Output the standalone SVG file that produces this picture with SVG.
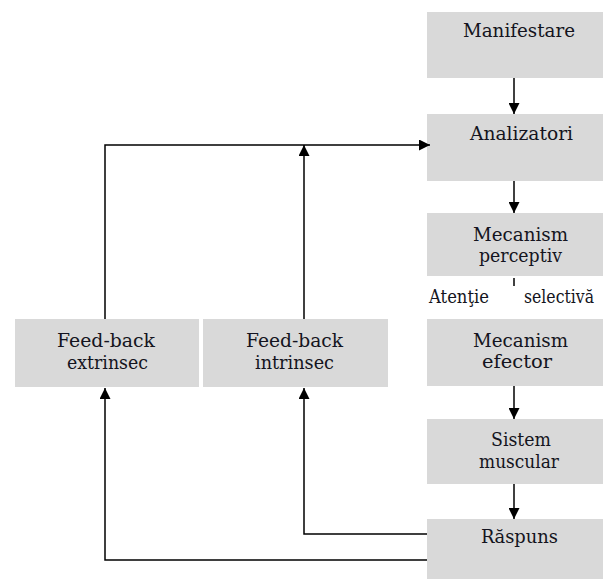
<svg xmlns="http://www.w3.org/2000/svg" width="603" height="582" viewBox="0 0 603 582">
<style>
.box{fill:#d9d9d9;stroke:none}
.t{font-family:'DejaVu Serif','Liberation Serif',serif;font-size:18px;fill:#141420}
.ln{fill:none;stroke:#000;stroke-width:1.5}
</style>
<defs>
<marker id="ah" markerUnits="userSpaceOnUse" markerWidth="11" markerHeight="11" refX="10" refY="5" orient="auto" viewBox="0 0 10 10">
<path d="M0,0 L10,5 L0,10 z" fill="#000"/>
</marker>
</defs>
<rect width="603" height="582" fill="#fff"/>
<g id="manifestare"><rect class="box" x="427" y="12" width="176" height="66"/><text class="t" x="463" y="37" textLength="112" lengthAdjust="spacingAndGlyphs">Manifestare</text></g>
<g id="analizatori"><rect class="box" x="427" y="114" width="176" height="67"/><text class="t" x="470" y="140" textLength="103" lengthAdjust="spacingAndGlyphs">Analizatori</text></g>
<g id="mecanism-perceptiv"><rect class="box" x="427" y="213" width="176" height="63"/><text class="t" x="473" y="241" textLength="95" lengthAdjust="spacingAndGlyphs">Mecanism</text><text class="t" x="479" y="262" textLength="83" lengthAdjust="spacingAndGlyphs">perceptiv</text></g>
<g id="atentie"><text class="t" x="429" y="303" textLength="60" lengthAdjust="spacingAndGlyphs">Atenţie</text><text class="t" x="524" y="303" textLength="70" lengthAdjust="spacingAndGlyphs">selectivă</text></g>
<g id="mecanism-efector"><rect class="box" x="427" y="319" width="176" height="67"/><text class="t" x="473" y="347" textLength="95" lengthAdjust="spacingAndGlyphs">Mecanism</text><text class="t" x="482" y="368" textLength="70" lengthAdjust="spacingAndGlyphs">efector</text></g>
<g id="sistem-muscular"><rect class="box" x="427" y="419" width="176" height="65"/><text class="t" x="491" y="446" textLength="60" lengthAdjust="spacingAndGlyphs">Sistem</text><text class="t" x="479" y="468" textLength="80" lengthAdjust="spacingAndGlyphs">muscular</text></g>
<g id="raspuns"><rect class="box" x="427" y="519" width="176" height="60"/><text class="t" x="481" y="543" textLength="77" lengthAdjust="spacingAndGlyphs">Răspuns</text></g>
<g id="feedback-extrinsec"><rect class="box" x="15" y="319" width="184" height="68"/><text class="t" x="57" y="347" textLength="98" lengthAdjust="spacingAndGlyphs">Feed-back</text><text class="t" x="67" y="369" textLength="81" lengthAdjust="spacingAndGlyphs">extrinsec</text></g>
<g id="feedback-intrinsec"><rect class="box" x="203" y="319" width="185" height="68"/><text class="t" x="246" y="347" textLength="97" lengthAdjust="spacingAndGlyphs">Feed-back</text><text class="t" x="255" y="369" textLength="79" lengthAdjust="spacingAndGlyphs">intrinsec</text></g>
<g id="connectors">
<line class="ln" x1="514" y1="78" x2="514" y2="114" marker-end="url(#ah)"/>
<line class="ln" x1="514" y1="181" x2="514" y2="213" marker-end="url(#ah)"/>
<line class="ln" x1="514" y1="278" x2="514" y2="286"/>
<line class="ln" x1="514" y1="386" x2="514" y2="419" marker-end="url(#ah)"/>
<line class="ln" x1="514" y1="484" x2="514" y2="519" marker-end="url(#ah)"/>
<polyline class="ln" points="105,319 105,145 430,145" marker-end="url(#ah)"/>
<line class="ln" x1="304" y1="319" x2="304" y2="145" marker-end="url(#ah)"/>
<polyline class="ln" points="427,560 105,560 105,388" marker-end="url(#ah)"/>
<polyline class="ln" points="427,534 304,534 304,388" marker-end="url(#ah)"/>
</g>
</svg>
